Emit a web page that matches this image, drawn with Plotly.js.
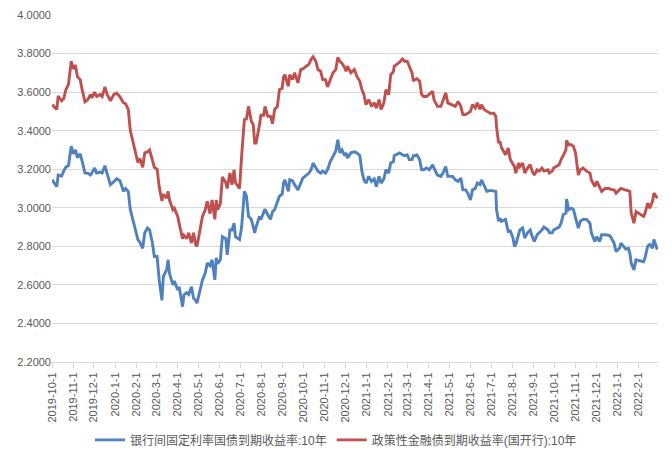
<!DOCTYPE html>
<html>
<head>
<meta charset="utf-8">
<script src="https://cdn.plot.ly/plotly-3.0.1.min.js"></script>
<style>
html,body{margin:0;padding:0;background:#fff;}
#chart{width:672px;height:463px;}
</style>
</head>
<body>
<div id="chart"></div>
<script>
var dates = [
"2019-10-01","2019-10-08","2019-10-10","2019-10-15","2019-10-18","2019-10-21","2019-10-25","2019-10-29",
"2019-11-01","2019-11-04","2019-11-07","2019-11-11","2019-11-14","2019-11-18","2019-11-22","2019-11-26","2019-11-28",
"2019-12-02","2019-12-05","2019-12-10","2019-12-13","2019-12-17","2019-12-20","2019-12-25","2019-12-30",
"2020-01-03","2020-01-08","2020-01-13","2020-01-16","2020-01-20","2020-01-23",
"2020-02-03","2020-02-06","2020-02-10","2020-02-13","2020-02-17","2020-02-20","2020-02-24","2020-02-27",
"2020-03-02","2020-03-05","2020-03-09","2020-03-11","2020-03-16","2020-03-18","2020-03-20","2020-03-25","2020-03-27",
"2020-04-01","2020-04-03","2020-04-08","2020-04-10","2020-04-14","2020-04-17","2020-04-21","2020-04-24","2020-04-27","2020-04-29",
"2020-05-07","2020-05-11","2020-05-14","2020-05-18","2020-05-21","2020-05-25","2020-05-27","2020-05-29",
"2020-06-02","2020-06-05","2020-06-10","2020-06-12","2020-06-16","2020-06-19","2020-06-22","2020-06-24","2020-06-30",
"2020-07-03","2020-07-07","2020-07-10","2020-07-13","2020-07-17","2020-07-20","2020-07-22","2020-07-24","2020-07-29","2020-07-31",
"2020-08-04","2020-08-06","2020-08-10","2020-08-14","2020-08-17","2020-08-20","2020-08-24","2020-08-27","2020-08-31",
"2020-09-02","2020-09-04","2020-09-09","2020-09-11","2020-09-15","2020-09-18","2020-09-23","2020-09-27","2020-09-30",
"2020-10-09","2020-10-12","2020-10-15","2020-10-19","2020-10-22","2020-10-26","2020-10-29",
"2020-11-02","2020-11-05","2020-11-09","2020-11-13","2020-11-17","2020-11-20","2020-11-23","2020-11-26","2020-11-30",
"2020-12-02","2020-12-04","2020-12-09","2020-12-14","2020-12-18","2020-12-22","2020-12-25","2020-12-28","2020-12-31",
"2021-01-04","2021-01-08","2021-01-12","2021-01-15","2021-01-19","2021-01-22","2021-01-26","2021-01-29",
"2021-02-02","2021-02-05","2021-02-09","2021-02-10","2021-02-18","2021-02-22","2021-02-25",
"2021-03-01","2021-03-04","2021-03-08","2021-03-10","2021-03-12","2021-03-15","2021-03-19","2021-03-22","2021-03-25","2021-03-29",
"2021-04-02","2021-04-07","2021-04-09","2021-04-14","2021-04-19","2021-04-22","2021-04-26","2021-04-29",
"2021-05-06","2021-05-10","2021-05-14","2021-05-18","2021-05-21","2021-05-25","2021-05-28",
"2021-06-01","2021-06-04","2021-06-08","2021-06-11","2021-06-15","2021-06-17","2021-06-21","2021-06-25","2021-06-30",
"2021-07-05","2021-07-08","2021-07-09","2021-07-12","2021-07-14","2021-07-16","2021-07-22","2021-07-26","2021-07-29",
"2021-08-02","2021-08-04","2021-08-06","2021-08-10","2021-08-12","2021-08-16","2021-08-19","2021-08-23","2021-08-27","2021-08-30",
"2021-09-02","2021-09-06","2021-09-09","2021-09-13","2021-09-16","2021-09-22","2021-09-24","2021-09-28","2021-09-30",
"2021-10-08","2021-10-11","2021-10-14","2021-10-18","2021-10-19","2021-10-22","2021-10-26","2021-10-29",
"2021-11-01","2021-11-03","2021-11-05","2021-11-08","2021-11-12","2021-11-17","2021-11-22","2021-11-24","2021-11-29",
"2021-12-02","2021-12-06","2021-12-09","2021-12-14","2021-12-20","2021-12-22","2021-12-27","2021-12-30",
"2022-01-04","2022-01-06","2022-01-10","2022-01-13","2022-01-17","2022-01-19","2022-01-21","2022-01-25","2022-01-28",
"2022-02-08","2022-02-10","2022-02-14","2022-02-17","2022-02-21","2022-02-23","2022-02-28"
];

var govBond10Y = [
3.146,3.11,3.17,3.165,3.19,3.21,3.22,3.32,
3.28,3.30,3.26,3.28,3.24,3.18,3.18,3.17,3.18,
3.206,3.18,3.185,3.18,3.218,3.18,3.12,3.135,
3.15,3.14,3.085,3.10,3.085,2.99,
2.835,2.82,2.79,2.87,2.895,2.885,2.82,2.747,
2.747,2.626,2.52,2.643,2.68,2.73,2.66,2.60,2.62,
2.574,2.59,2.487,2.548,2.56,2.55,2.59,2.53,2.52,2.505,
2.626,2.66,2.713,2.70,2.73,2.626,2.74,2.71,
2.73,2.85,2.84,2.756,2.885,2.885,2.92,2.85,2.835,
2.90,3.085,3.06,2.955,2.94,2.90,2.87,2.90,2.955,2.94,
2.97,2.993,2.964,2.94,2.98,2.99,3.03,3.06,3.07,
3.128,3.145,3.085,3.145,3.14,3.12,3.093,3.128,3.154,
3.18,3.197,3.232,3.206,3.19,3.18,3.19,
3.18,3.197,3.24,3.27,3.293,3.353,3.285,3.30,3.27,
3.285,3.258,3.285,3.29,3.284,3.27,3.19,3.145,3.128,
3.163,3.137,3.15,3.11,3.163,3.128,3.15,3.197,
3.18,3.232,3.24,3.27,3.284,3.275,3.27,
3.275,3.25,3.25,3.27,3.27,3.275,3.25,3.197,3.197,3.206,
3.197,3.223,3.206,3.17,3.163,3.18,3.214,3.163,
3.163,3.145,3.137,3.154,3.093,3.093,3.076,
3.04,3.093,3.10,3.128,3.12,3.145,3.11,3.085,3.09,
3.085,3.085,2.99,2.93,2.946,2.93,2.94,2.877,2.88,
2.843,2.80,2.81,2.86,2.885,2.895,2.843,2.87,2.885,2.85,
2.825,2.86,2.87,2.885,2.90,2.885,2.87,2.87,2.885,
2.90,2.92,2.964,2.973,3.045,2.99,2.998,2.99,
2.955,2.92,2.895,2.93,2.94,2.94,2.92,2.87,2.825,
2.85,2.825,2.86,2.86,2.857,2.85,2.817,2.773,
2.79,2.817,2.80,2.786,2.79,2.765,2.713,2.678,2.73,
2.72,2.74,2.80,2.81,2.79,2.835,2.783
];

var cdbBond10Y = [
3.535,3.51,3.58,3.555,3.565,3.61,3.64,3.76,
3.72,3.74,3.68,3.665,3.61,3.55,3.56,3.587,3.57,
3.60,3.577,3.587,3.577,3.627,3.59,3.555,3.587,
3.595,3.575,3.544,3.54,3.51,3.40,
3.235,3.255,3.21,3.285,3.29,3.30,3.25,3.21,
3.20,3.11,3.035,3.07,3.05,3.085,3.04,2.99,2.998,
2.955,2.92,2.84,2.857,2.84,2.87,2.817,2.87,2.81,2.80,
2.955,2.99,3.033,2.97,3.04,2.94,3.04,2.99,
3.02,3.16,3.13,3.10,3.18,3.12,3.197,3.13,3.10,
3.27,3.457,3.46,3.526,3.45,3.43,3.336,3.336,3.43,3.48,
3.48,3.526,3.474,3.474,3.436,3.51,3.526,3.613,3.62,
3.68,3.69,3.63,3.69,3.665,3.70,3.648,3.717,3.72,
3.745,3.77,3.783,3.76,3.717,3.708,3.665,
3.665,3.627,3.665,3.70,3.717,3.78,3.76,3.75,3.726,
3.708,3.735,3.70,3.717,3.68,3.656,3.613,3.587,3.535,
3.561,3.526,3.545,3.518,3.561,3.51,3.544,3.613,
3.587,3.69,3.708,3.734,3.755,3.772,3.76,
3.76,3.734,3.70,3.657,3.665,3.67,3.656,3.587,3.577,3.577,
3.587,3.604,3.56,3.526,3.526,3.552,3.596,3.544,
3.535,3.526,3.552,3.526,3.483,3.483,3.49,
3.50,3.535,3.518,3.544,3.51,3.535,3.51,3.50,3.49,
3.49,3.474,3.42,3.336,3.345,3.314,3.275,3.31,3.25,
3.223,3.214,3.18,3.232,3.214,3.232,3.18,3.206,3.223,3.189,
3.17,3.197,3.19,3.206,3.19,3.197,3.18,3.19,3.206,
3.223,3.25,3.275,3.30,3.35,3.327,3.327,3.318,
3.284,3.232,3.17,3.197,3.206,3.19,3.18,3.145,3.11,
3.137,3.11,3.085,3.10,3.10,3.095,3.093,3.076,
3.093,3.10,3.095,3.093,3.09,3.085,2.973,2.92,2.98,
2.955,2.97,3.024,2.998,3.033,3.076,3.05
];

var seriesNames = ["银行间固定利率国债到期收益率:10年", "政策性金融债到期收益率(国开行):10年"];
var yTicks = [2.2, 2.4, 2.6, 2.8, 3.0, 3.2, 3.4, 3.6, 3.8, 4.0];
var xTickDates = [
"2019-10-01","2019-11-01","2019-12-01","2020-01-01","2020-02-01","2020-03-01","2020-04-01","2020-05-01",
"2020-06-01","2020-07-01","2020-08-01","2020-09-01","2020-10-01","2020-11-01","2020-12-01","2021-01-01",
"2021-02-01","2021-03-01","2021-04-01","2021-05-01","2021-06-01","2021-07-01","2021-08-01","2021-09-01",
"2021-10-01","2021-11-01","2021-12-01","2022-01-01","2022-02-01"
];

var traces = [
  {x: dates, y: govBond10Y, name: seriesNames[0], type: "scatter", mode: "lines",
   line: {color: "#4f81bd", width: 2.9}},
  {x: dates, y: cdbBond10Y, name: seriesNames[1], type: "scatter", mode: "lines",
   line: {color: "#c0504d", width: 2.9}}
];

var layout = {
  width: 672, height: 463,
  margin: {l: 52, r: 14, t: 15, b: 101},
  paper_bgcolor: "#fff", plot_bgcolor: "#fff",
  font: {family: "Liberation Sans, Arial, Noto Sans CJK SC, sans-serif", size: 11, color: "#595959"},
  showlegend: true,
  legend: {orientation: "h", x: 0.5, xanchor: "center", xref: "container",
           y: 0.05, yref: "container", yanchor: "middle",
           font: {family: "Liberation Sans, Noto Sans CJK SC, sans-serif", size: 12, color: "#595959"},
           itemwidth: 30, traceorder: "normal"},
  xaxis: {type: "date", range: ["2019-10-01", "2022-03-01"],
          tickmode: "array", tickvals: xTickDates, tickformat: "%Y-%-m-%-d",
          tickangle: -90, showgrid: false, zeroline: false,
          showline: true, linecolor: "#d9d9d9", linewidth: 1,
          ticks: "outside", ticklen: 5, tickcolor: "#d9d9d9",
          tickfont: {size: 11, color: "#595959"}, fixedrange: true},
  yaxis: {range: [2.2, 4.0], tickvals: yTicks, tickformat: ".4f",
          showgrid: true, gridcolor: "#d9d9d9", gridwidth: 1,
          zeroline: false, showline: false, ticks: "",
          tickfont: {size: 11, color: "#595959"}, fixedrange: true}
};

Plotly.newPlot("chart", traces, layout, {displayModeBar: false, staticPlot: true});
</script>
</body>
</html>
